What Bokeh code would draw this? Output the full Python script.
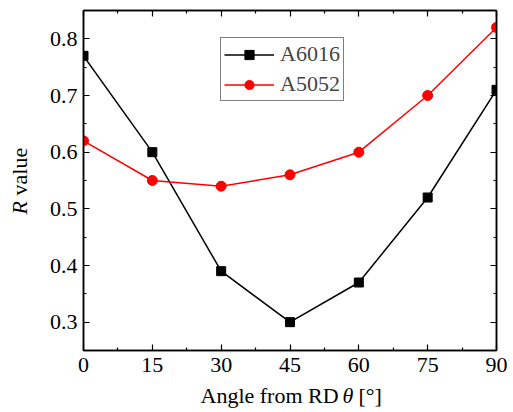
import math
from bokeh.plotting import figure
from bokeh.models import LinearAxis, Range1d, Label, FixedTicker, Legend, LegendItem
from bokeh.layouts import column, row
from bokeh.embed import file_html
from bokeh.resources import INLINE

angles = [0, 15, 30, 45, 60, 75, 90]
r_a6016 = [0.77, 0.60, 0.39, 0.30, 0.37, 0.52, 0.71]
r_a5052 = [0.62, 0.55, 0.54, 0.56, 0.60, 0.70, 0.82]
x_ticks = [0, 15, 30, 45, 60, 75, 90]
y_ticks = [0.3, 0.4, 0.5, 0.6, 0.7, 0.8]
x_minor = [7.5, 22.5, 37.5, 52.5, 67.5, 82.5]
y_minor = [0.25, 0.35, 0.45, 0.55, 0.65, 0.75, 0.85]

FONT = "Liberation Serif"
FS = "22px"

W, H = 513, 412
YLAB_W = 40
XLAB_H = 30
MAIN_H = H - XLAB_H

p = figure(width=W - YLAB_W, height=MAIN_H, output_backend="svg", toolbar_location=None,
           x_range=Range1d(0, 90), y_range=Range1d(0.25, 0.85), title=None,
           min_border_left=83 - YLAB_W, min_border_right=17, min_border_top=10,
           min_border_bottom=MAIN_H - 350)
p.background_fill_color = "white"
p.border_fill_color = "white"
p.grid.visible = False
p.outline_line_color = "black"
p.outline_line_width = 1.5

def style_axis(ax, labels=True):
    ax.axis_line_color = "black"
    ax.axis_line_width = 1.5
    ax.major_tick_in = 6
    ax.major_tick_out = 0
    ax.minor_tick_in = 3
    ax.minor_tick_out = 0
    ax.major_tick_line_width = 1.2
    ax.minor_tick_line_width = 1.2
    ax.major_tick_line_color = "black"
    ax.minor_tick_line_color = "black"
    ax.major_label_text_font = FONT
    ax.major_label_text_font_size = FS
    ax.major_label_text_color = "black"
    if not labels:
        ax.major_label_text_font_size = "0px"
        ax.major_label_text_alpha = 0

p.xaxis.ticker = FixedTicker(ticks=x_ticks, minor_ticks=x_minor)
p.yaxis.ticker = FixedTicker(ticks=y_ticks, minor_ticks=y_minor)
style_axis(p.xaxis[0])
style_axis(p.yaxis[0])
p.xaxis.major_label_standoff = 7
p.yaxis.major_label_standoff = 6

top = LinearAxis(ticker=FixedTicker(ticks=x_ticks, minor_ticks=x_minor))
style_axis(top, labels=False)
p.add_layout(top, "above")
right = LinearAxis(ticker=FixedTicker(ticks=y_ticks, minor_ticks=y_minor))
style_axis(right, labels=False)
p.add_layout(right, "right")

l1 = p.line(angles, r_a6016, line_color="black", line_width=1.5)
s1 = p.scatter(angles, r_a6016, marker="square", size=9, fill_color="black", line_color="black")
l2 = p.line(angles, r_a5052, line_color="red", line_width=1.5)
s2 = p.scatter(angles, r_a5052, marker="circle", size=10, fill_color="red", line_color="red")

legend = Legend(items=[LegendItem(label="A6016", renderers=[l1, s1]),
                       LegendItem(label="A5052", renderers=[l2, s2])],
                location=(137, 249))
legend.label_text_font = FONT
legend.label_text_font_size = FS
legend.glyph_width = 50
legend.glyph_height = 23
legend.label_height = 23
legend.spacing = 4
legend.padding = 3
legend.margin = 0
legend.border_line_color = "black"
legend.border_line_width = 1.2
legend.label_standoff = 6
p.add_layout(legend, "center")

def blank(w, h):
    f = figure(width=w, height=h, output_backend="svg", toolbar_location=None,
               x_range=Range1d(0, w), y_range=Range1d(0, h), title=None,
               x_axis_location=None, y_axis_location=None,
               min_border=0, min_border_left=0, min_border_right=0,
               min_border_top=0, min_border_bottom=0)
    f.grid.visible = False
    f.outline_line_color = None
    f.background_fill_color = "white"
    f.border_fill_color = "white"
    return f

def lab(f, x, y, text, italic=False, angle=0.0):
    f.add_layout(Label(x=x, y=y, x_units="screen", y_units="screen", text=text,
                       text_font=FONT, text_font_style="italic" if italic else "normal",
                       text_font_size=FS, text_color="black", angle=angle,
                       text_baseline="alphabetic"))

# y-axis title panel (its frame is aligned with the main plot's frame)
ylab = blank(YLAB_W, MAIN_H)
lab(ylab, 19, 136, "R", italic=True, angle=math.pi / 2)
lab(ylab, 19, 155, "value", angle=math.pi / 2)

# x-axis title panel
xlab = blank(W, XLAB_H)
base = 17
lab(xlab, 200, base, "Angle from RD")
lab(xlab, 342, base, "θ", italic=True)
lab(xlab, 358, base, "[°]")

layout = column(row(ylab, p, spacing=0), xlab, spacing=0)
open("out.html", "w").write(file_html(layout, INLINE))
